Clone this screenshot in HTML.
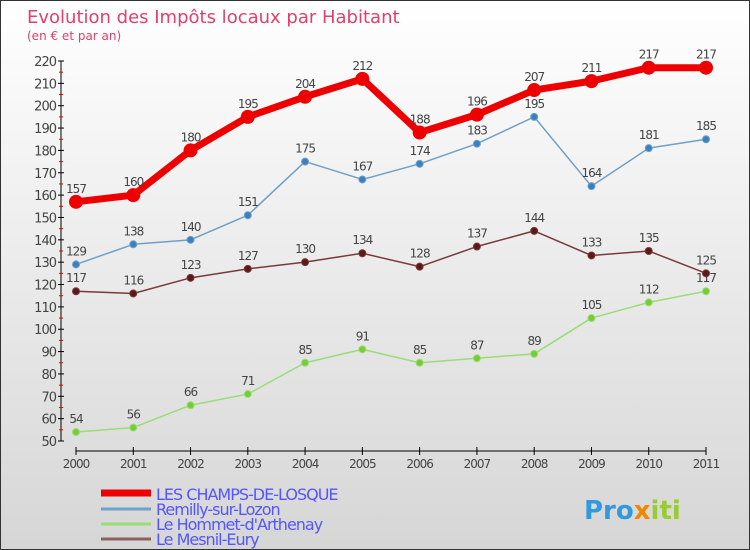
<!DOCTYPE html>
<html><head><meta charset="utf-8"><style>
body{margin:0}
#c{width:750px;height:550px;position:relative;overflow:hidden;font-family:"DejaVu Sans","Liberation Sans",sans-serif;background:linear-gradient(#ffffff,#d6d6d6);box-sizing:border-box;border:1px solid #333}
</style></head><body>
<div id="c">
<svg id="s" width="750" height="550">
<text x="26" y="22" font-size="18" fill="#e0406a">Evolution des Impôts locaux par Habitant</text>
<text x="26" y="39" font-size="12" fill="#e0406a">(en € et par an)</text>
<g id="axes"></g><g id="series"></g>
<g>
<line x1="100" y1="492" x2="150" y2="492" stroke="#ee0000" stroke-width="7"/>
<text x="155" y="499" font-size="16" fill="#5555ff" letter-spacing="-1">LES CHAMPS-DE-LOSQUE</text>
<line x1="100" y1="508" x2="150" y2="508" stroke="#6fa0c8" stroke-width="3"/>
<text x="155" y="514" font-size="16" fill="#5555ff" letter-spacing="-1">Remilly-sur-Lozon</text>
<line x1="100" y1="523" x2="150" y2="523" stroke="#99dd77" stroke-width="3"/>
<text x="155" y="529" font-size="16" fill="#5555ff" letter-spacing="-1">Le Hommet-d'Arthenay</text>
<line x1="100" y1="538" x2="150" y2="538" stroke="#8a6060" stroke-width="3"/>
<text x="155" y="544" font-size="16" fill="#5555ff" letter-spacing="-1">Le Mesnil-Eury</text>
</g>
<text x="583" y="518" font-size="26" font-weight="bold" fill="#3399dd">Pro<tspan fill="#ee8800">x</tspan><tspan fill="#99cc33">iti</tspan></text>
</svg></div>
<script>
const years=[2000,2001,2002,2003,2004,2005,2006,2007,2008,2009,2010,2011];
const champs=[157,160,180,195,204,212,188,196,207,211,217,217];
const remilly=[129,138,140,151,175,167,174,183,195,164,181,185];
const hommet=[54,56,66,71,85,91,85,87,89,105,112,117];
const mesnil=[117,116,123,127,130,134,128,137,144,133,135,125];
const yTicks=[50,60,70,80,90,100,110,120,130,140,150,160,170,180,190,200,210,220];
const NS="http://www.w3.org/2000/svg";
const X=i=>75+i*(630/11), Y=v=>440-(v-50)*380/170;
function mk(t,a,p){const e=document.createElementNS(NS,t);for(const k in a)e.setAttribute(k,a[k]);p.appendChild(e);return e;}
const ax=document.getElementById('axes');
let l=mk('line',{x1:60,y1:60,x2:60,y2:440,stroke:'#000'},ax);

const yMax=yTicks[yTicks.length-1];
yTicks.forEach(v=>{mk('line',{x1:57,y1:Y(v),x2:63,y2:Y(v),stroke:'#000'},ax);
 if(v<yMax) mk('line',{x1:58,y1:Y(v+5),x2:62,y2:Y(v+5),stroke:'#e00'},ax);
 const t=mk('text',{x:55,y:Y(v)+5,'font-size':13,'text-anchor':'end',fill:'#444','letter-spacing':'-1'},ax);t.textContent=v;
 });
l=mk('line',{x1:75,y1:450,x2:705,y2:450,stroke:'#000'},ax);

years.forEach((y,i)=>{mk('line',{x1:X(i),y1:446,x2:X(i),y2:454,stroke:'#000'},ax);
 const t=mk('text',{x:X(i),y:467,'font-size':12,'text-anchor':'middle',fill:'#444','letter-spacing':'-1'},ax);t.textContent=y;
 });
const sg=document.getElementById('series');
function series(d,name,col,w,r,dot){
 const g=mk('g',{},sg);
 const p=mk('polyline',{points:d.map((v,i)=>X(i)+','+Y(v)).join(' '),fill:'none',stroke:col,'stroke-width':w,'stroke-linejoin':'round'},g);
 
 d.forEach((v,i)=>{const c=mk('circle',{cx:X(i),cy:Y(v),r:r,fill:dot,stroke:col,'stroke-width':1},g);
  
  const t=mk('text',{x:X(i),y:Y(v)-9,'font-size':12,'text-anchor':'middle',fill:'#444','letter-spacing':'-1'},g);t.textContent=v;
  });
}
series(hommet,'hommet','#99dd77',1.5,3.5,'#77cc33');
series(mesnil,'mesnil','#7a3a3a',1.5,3.5,'#5a1a1a');
series(remilly,'remilly','#6fa0c8',1.5,3.5,'#3a80c0');
series(champs,'champs','#ee0000',7,6.5,'#ee0000');
</script></body></html>
